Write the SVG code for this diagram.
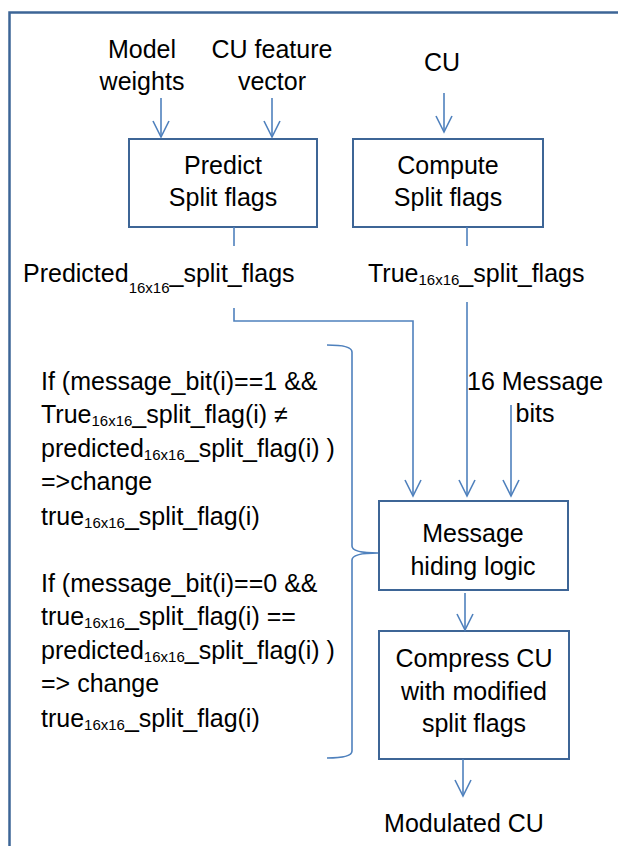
<svg xmlns="http://www.w3.org/2000/svg" width="618" height="846" viewBox="0 0 618 846">
<defs>
<style>
text{font-family:"Liberation Sans",Arial,sans-serif;font-size:25px;fill:#000}
.c{text-anchor:middle}
.s{font-size:15px}
.box{fill:#fff;stroke:#3d6596;stroke-width:2}
.ln{fill:none;stroke:#4f81bd;stroke-width:1.6}
</style>
<marker id="ah" markerUnits="userSpaceOnUse" markerWidth="20" markerHeight="20" viewBox="-18 -10 20 20" refX="0" refY="0" orient="auto">
<path d="M-16,-8 L0,0 L-16,8" fill="none" stroke="#4f81bd" stroke-width="1.6"/>
</marker>
</defs>
<rect width="618" height="846" fill="#fff"/>
<path d="M9.5,846 V12.5 H618" fill="none" stroke="#3d6596" stroke-width="2.5"/>

<g id="in-model"><text class="c" x="142" y="58">Model</text><text class="c" x="142" y="90">weights</text></g>
<g id="in-feature"><text class="c" x="272" y="58">CU feature</text><text class="c" x="272" y="90">vector</text></g>
<g id="in-cu"><text class="c" x="442" y="71">CU</text></g>

<g id="predict"><rect class="box" x="129" y="139" width="188" height="88"/><text class="c" x="223" y="174">Predict</text><text class="c" x="223" y="206">Split flags</text></g>
<g id="compute"><rect class="box" x="353" y="139" width="190" height="88"/><text class="c" x="448" y="174">Compute</text><text class="c" x="448" y="206">Split flags</text></g>

<g id="pred-label"><text x="23" y="282">Predicted<tspan class="s" dy="11">16x16</tspan><tspan dy="-11">_split_flags</tspan></text></g>
<g id="true-label"><text x="368" y="282">True<tspan class="s" dy="3">16x16</tspan><tspan dy="-3">_split_flags</tspan></text></g>
<g id="bits-label"><text x="467" y="390">16 Message</text><text class="c" x="535" y="422">bits</text></g>

<g id="rules">
<text x="41" y="390">If (message_bit(i)==1 &amp;&amp;</text>
<text x="41" y="423">True<tspan class="s" dy="3">16x16</tspan><tspan dy="-3">_split_flag(i) ≠</tspan></text>
<text x="41" y="457">predicted<tspan class="s" dy="3">16x16</tspan><tspan dy="-3">_split_flag(i) )</tspan></text>
<text x="41" y="490">=&gt;change</text>
<text x="41" y="525">true<tspan class="s" dy="3">16x16</tspan><tspan dy="-3">_split_flag(i)</tspan></text>
<text x="41" y="592">If (message_bit(i)==0 &amp;&amp;</text>
<text x="41" y="625">true<tspan class="s" dy="3">16x16</tspan><tspan dy="-3">_split_flag(i) ==</tspan></text>
<text x="41" y="659">predicted<tspan class="s" dy="3">16x16</tspan><tspan dy="-3">_split_flag(i) )</tspan></text>
<text x="41" y="692">=&gt; change</text>
<text x="41" y="727">true<tspan class="s" dy="3">16x16</tspan><tspan dy="-3">_split_flag(i)</tspan></text>
</g>

<g id="hiding"><rect class="box" x="379" y="501" width="189" height="89"/><text class="c" x="473" y="542">Message</text><text class="c" x="473" y="575">hiding logic</text></g>
<g id="compress"><rect class="box" x="379" y="631" width="190" height="128"/><text class="c" x="474" y="667">Compress CU</text><text class="c" x="474" y="700">with modified</text><text class="c" x="474" y="732">split flags</text></g>
<g id="out"><text class="c" x="464" y="832">Modulated CU</text></g>

<g id="connectors">
<path class="ln" d="M161,98 V137" marker-end="url(#ah)"/>
<path class="ln" d="M272,98 V137" marker-end="url(#ah)"/>
<path class="ln" d="M444,93 V132" marker-end="url(#ah)"/>
<path class="ln" d="M234,227 V246"/>
<path class="ln" d="M467,227 V246"/>
<path class="ln" d="M234,308 V321 H413 V496" marker-end="url(#ah)"/>
<path class="ln" d="M467,302 V496" marker-end="url(#ah)"/>
<path class="ln" d="M511,405 V496" marker-end="url(#ah)"/>
<path class="ln" d="M465,593 V630" marker-end="url(#ah)"/>
<path class="ln" d="M463,759 V796" marker-end="url(#ah)"/>
<path class="ln" d="M327,345 Q352,345 352,352 V546 Q352,553 378,553 Q352,553 352,560 V751 Q352,758 327,758"/>
</g>
</svg>
